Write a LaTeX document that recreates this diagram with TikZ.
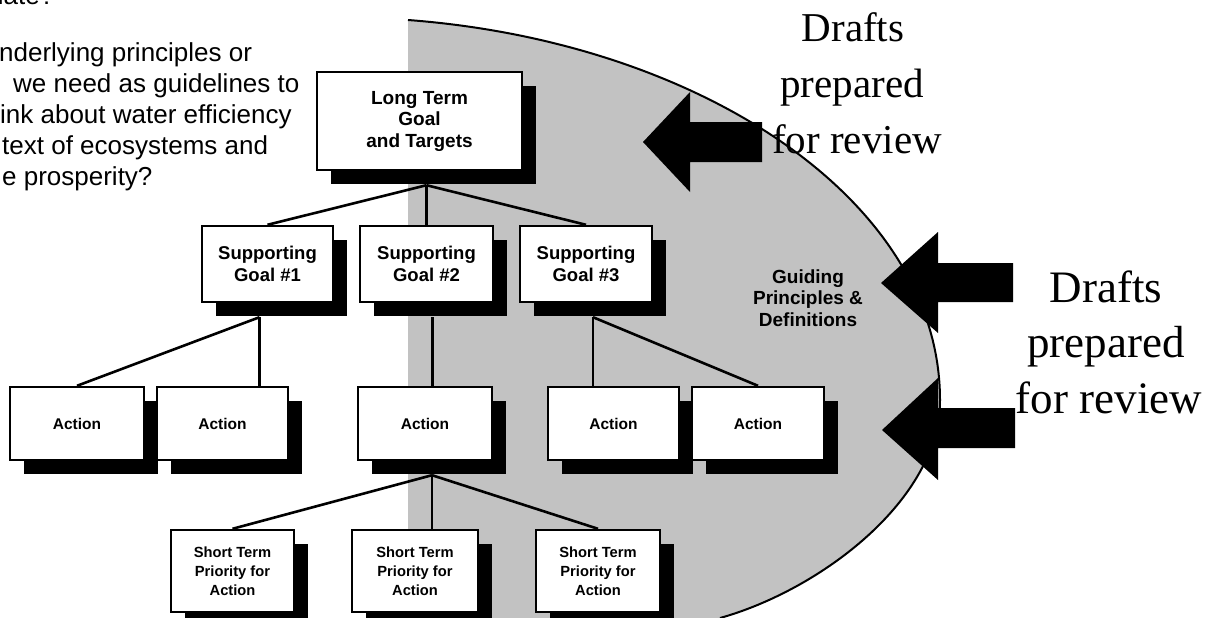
\documentclass[tikz,border=0pt]{standalone}
\usepackage{fontspec}
\setmainfont{Liberation Sans}
\newfontfamily\timesf{Liberation Serif}
\usetikzlibrary{calc,shadows}
\begin{document}
\begin{tikzpicture}[x=1pt,y=-1pt,
  gbox/.style={draw=black, line width=2.4pt, fill=white, inner sep=0pt, align=center,
     drop shadow={shadow xshift=14pt, shadow yshift=-14pt, opacity=1, fill=black}},
  ltf/.style={font=\bfseries\fontsize{19}{21.5}\selectfont},
  sgf/.style={font=\bfseries\fontsize{18.5}{22}\selectfont},
  acf/.style={font=\bfseries\fontsize{15.5}{18}\selectfont},
  stf/.style={font=\bfseries\fontsize{14.7}{19}\selectfont},
  conn/.style={line width=2.6pt},
  blockarrow/.style={fill=black},
  intro/.style={anchor=base west, inner sep=0pt, font=\fontsize{26}{31}\selectfont},
  draftf/.style={anchor=base, inner sep=0pt, font=\timesf\fontsize{41}{55}\selectfont},
  draftg/.style={anchor=base, inner sep=0pt, font=\timesf\fontsize{45}{55}\selectfont},
]
\useasboundingbox (0,0) rectangle (1228,618);
\clip (0,0) rectangle (1228,618);
\fill[white] (0,0) rectangle (1228,618);

% shaded region
\fill[black!24] (408,20) .. controls (700,42) and (940,200) .. (940,400)
   .. controls (940,500) and (820,590) .. (720,618) -- (408,618) -- cycle;
\draw[line width=2pt] (408,20) .. controls (700,42) and (940,200) .. (940,400)
   .. controls (940,500) and (820,590) .. (720,618);

% intro text
\node[intro] (t0) at (-11,5) {nate?};
\node[intro] (t1) at (-1,62) {nderlying principles or};
\node[intro] (t2) at (13,92.8) {we need as guidelines to};
\node[intro] (t3) at (0,123.6) {ink about water efficiency};
\node[intro] (t4) at (2,154.4) {text of ecosystems and};
\node[intro] (t5) at (2,185.2) {e prosperity?};

% boxes
\node[gbox, ltf, minimum width=205pt, minimum height=98pt] (lt) at (419.5,121) {Long Term\\Goal\\and Targets};

\node[gbox, sgf, minimum width=131pt, minimum height=76pt] (sg1) at (267.5,264) {Supporting\\Goal \#1};
\node[gbox, sgf, minimum width=133pt, minimum height=76pt] (sg2) at (426.5,264) {Supporting\\Goal \#2};
\node[gbox, sgf, minimum width=132pt, minimum height=76pt] (sg3) at (586,264) {Supporting\\Goal \#3};

\node[gbox, acf, minimum width=134pt, minimum height=73pt] (a1) at (77,423.5) {Action};
\node[gbox, acf, minimum width=131pt, minimum height=73pt] (a2) at (222.5,423.5) {Action};
\node[gbox, acf, minimum width=134pt, minimum height=73pt] (a3) at (425,423.5) {Action};
\node[gbox, acf, minimum width=131pt, minimum height=73pt] (a4) at (613.5,423.5) {Action};
\node[gbox, acf, minimum width=132pt, minimum height=73pt] (a5) at (758,423.5) {Action};

\node[gbox, stf, minimum width=123pt, minimum height=82pt] (st1) at (232.5,571) {Short Term\\Priority for\\Action};
\node[gbox, stf, minimum width=126pt, minimum height=82pt] (st2) at (415,571) {Short Term\\Priority for\\Action};
\node[gbox, stf, minimum width=124pt, minimum height=82pt] (st3) at (598,571) {Short Term\\Priority for\\Action};

% connectors
\coordinate (ltb) at ($(lt.south)+(7,14)$);
\coordinate (sg1b) at ($(sg1.south)+(-8,14)$);
\coordinate (sg2b) at ($(sg2.south)+(6,14)$);
\coordinate (sg3b) at ($(sg3.south)+(7,14)$);
\coordinate (a3b) at ($(a3.south)+(7,14)$);
\draw[conn] (ltb) -- (sg1.north);
\draw[conn] (ltb) -- (ltb |- sg2.north);
\draw[conn] (ltb) -- (sg3.north);
\draw[conn] (sg1b) -- (a1.north);
\draw[conn] (sg1b) -- (sg1b |- a2.north);
\draw[conn] (sg2b) -- (sg2b |- a3.north);
\draw[conn] (sg3b) -- (sg3b |- a4.north);
\draw[conn] (sg3b) -- (a5.north);
\draw[conn] (a3b) -- (st1.north);
\draw[conn] (a3b) -- (a3b |- st2.north);
\draw[conn] (a3b) -- (st3.north);

% block arrows
\fill[blockarrow] (643,142) -- (690,92) -- (690,122) -- (762,122) -- (762,162) -- (690,162) -- (690,192) -- cycle;
\fill[blockarrow] (881,283) -- (938,232) -- (938,263) -- (1013,263) -- (1013,302) -- (938,302) -- (938,333) -- cycle;
\fill[blockarrow] (882,430) -- (938,378) -- (938,408) -- (1015,408) -- (1015,448) -- (938,448) -- (938,480) -- cycle;

% labels
\node[align=center, inner sep=0pt, font=\bfseries\fontsize{19}{21.5}\selectfont] (gp) at (808,298) {Guiding\\Principles \&\\Definitions};

\node[draftf] (d1) at (853,42) {Drafts};
\node[draftf] (d2) at (852,97) {prepared};
\node[draftf] (d3) at (857,153) {for review};

\node[draftg] (e1) at (1106,302) {Drafts};
\node[draftg] (e2) at (1106,357) {prepared};
\node[draftg] (e3) at (1109,413) {for review};
\end{tikzpicture}
\end{document}
